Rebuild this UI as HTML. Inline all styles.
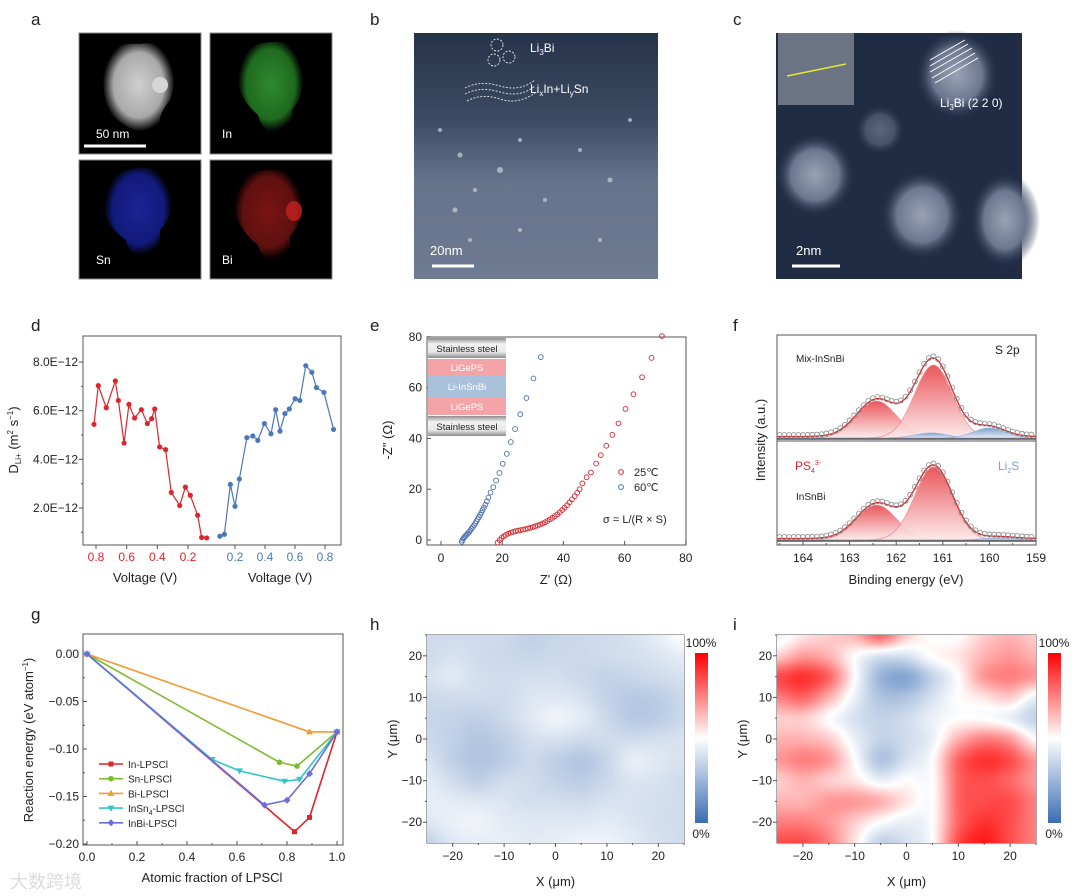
<!DOCTYPE html>
<html><head><meta charset="utf-8"><style>
body{margin:0;background:#fff;}
svg{display:block;font-family:"Liberation Sans",Arial,sans-serif;}
text{fill:#222;}
</style></head><body>
<svg id="fig" width="1080" height="896" viewBox="0 0 1080 896" xmlns="http://www.w3.org/2000/svg">
<defs>
<radialGradient id="partG" cx="50%" cy="45%" r="50%"><stop offset="0" stop-color="#cfcfcf"/><stop offset="0.7" stop-color="#a9a9a9"/><stop offset="1" stop-color="#000"/></radialGradient>
<radialGradient id="inG" cx="50%" cy="45%" r="50%"><stop offset="0" stop-color="#2f8a2f"/><stop offset="0.75" stop-color="#1f6a1f"/><stop offset="1" stop-color="#000"/></radialGradient>
<radialGradient id="snG" cx="50%" cy="45%" r="50%"><stop offset="0" stop-color="#1a2495"/><stop offset="0.75" stop-color="#121a7a"/><stop offset="1" stop-color="#000"/></radialGradient>
<radialGradient id="biG" cx="50%" cy="45%" r="50%"><stop offset="0" stop-color="#7a1414"/><stop offset="0.75" stop-color="#5e1010"/><stop offset="1" stop-color="#000"/></radialGradient>
<linearGradient id="bG" x1="0" y1="0" x2="0" y2="1"><stop offset="0" stop-color="#26334a"/><stop offset="0.35" stop-color="#3c4a63"/><stop offset="0.6" stop-color="#66738c"/><stop offset="1" stop-color="#6d7a92"/></linearGradient>
<radialGradient id="blob" cx="50%" cy="50%" r="50%"><stop offset="0" stop-color="#9aa3b5"/><stop offset="0.6" stop-color="#6c7790"/><stop offset="1" stop-color="#1f2c44" stop-opacity="0"/></radialGradient>
<linearGradient id="steel" x1="0" y1="0" x2="0" y2="1"><stop offset="0" stop-color="#8c8c8c"/><stop offset="0.3" stop-color="#f2f2f2"/><stop offset="0.7" stop-color="#e8e8e8"/><stop offset="1" stop-color="#8c8c8c"/></linearGradient>
<linearGradient id="peakFill" x1="0" y1="0" x2="0" y2="1"><stop offset="0" stop-color="#e8454a"/><stop offset="1" stop-color="#fde9ea"/></linearGradient>
<linearGradient id="blueFill" x1="0" y1="0" x2="0" y2="1"><stop offset="0" stop-color="#6f94c6"/><stop offset="1" stop-color="#e6eef8"/></linearGradient>
<linearGradient id="cbar" x1="0" y1="1" x2="0" y2="0"><stop offset="0" stop-color="#3a6db3"/><stop offset="0.5" stop-color="#ffffff"/><stop offset="1" stop-color="#ff0000"/></linearGradient>
</defs>

<g font-size="17">
<text x="31" y="25">a</text><text x="370" y="25">b</text><text x="733" y="25">c</text>
<text x="31" y="331">d</text><text x="370" y="331">e</text><text x="733" y="331">f</text>
<text x="31" y="620">g</text><text x="370" y="630">h</text><text x="733" y="630">i</text>
</g>

<g>
<rect x="79" y="33" width="122" height="121" fill="#000" stroke="#888"/>
<path d="M108 55 Q115 42 140 44 Q165 40 172 58 Q178 80 170 100 Q162 110 160 118 Q162 135 148 136 Q135 132 120 122 Q104 110 104 90 Q100 70 108 55Z" fill="url(#partG)"/>
<circle cx="160" cy="85" r="8" fill="#d6d6d6"/>
<line x1="84" y1="146" x2="146" y2="146" stroke="#fff" stroke-width="3"/>
<text x="96" y="138" font-size="12" style="fill:#fff">50 nm</text>
<rect x="210" y="33" width="122" height="121" fill="#000" stroke="#888"/>
<path d="M240 60 Q250 40 280 42 Q302 45 303 70 Q305 95 292 110 Q295 130 280 136 Q262 132 258 115 Q240 100 238 80Z" fill="url(#inG)"/>
<text x="222" y="138" font-size="12" style="fill:#fff">In</text>
<rect x="79" y="160" width="122" height="119" fill="#000" stroke="#888"/>
<path d="M106 195 Q110 170 140 168 Q170 166 172 190 Q175 215 160 230 Q162 255 148 260 Q130 258 126 240 Q104 225 104 205Z" fill="url(#snG)"/>
<text x="96" y="264" font-size="12" style="fill:#fff">Sn</text>
<rect x="210" y="160" width="122" height="119" fill="#000" stroke="#888"/>
<path d="M236 190 Q245 168 275 170 Q303 170 303 195 Q305 220 290 236 Q292 260 278 264 Q262 262 258 245 Q236 228 234 205Z" fill="url(#biG)"/>
<ellipse cx="294" cy="211" rx="8" ry="10" fill="#c42020" opacity="0.8"/>
<text x="222" y="264" font-size="12" style="fill:#fff">Bi</text>
</g>

<g>
<rect x="414" y="33" width="244" height="246" fill="url(#bG)"/>
<g fill="#c8d0dc" opacity="0.7">
<circle cx="440" cy="130" r="2"/><circle cx="460" cy="155" r="2.5"/><circle cx="475" cy="190" r="2"/><circle cx="500" cy="170" r="3"/><circle cx="520" cy="140" r="2"/><circle cx="455" cy="210" r="2.5"/><circle cx="545" cy="200" r="2"/><circle cx="580" cy="150" r="2"/><circle cx="610" cy="180" r="2.5"/><circle cx="630" cy="120" r="2"/><circle cx="470" cy="240" r="2"/><circle cx="520" cy="230" r="2"/><circle cx="600" cy="240" r="2"/>
</g>
<g fill="none" stroke="#e8ecf2" stroke-dasharray="2,1.5" stroke-width="0.9">
<circle cx="497" cy="45" r="6"/><circle cx="509" cy="57" r="6"/><circle cx="494" cy="60" r="6"/>
<path d="M465 88 Q480 80 500 86 T535 80"/><path d="M465 94 Q480 86 500 92 T535 86"/><path d="M467 101 Q482 93 500 99 T535 93"/>
</g>
<text x="530" y="52" font-size="12" style="fill:#fff">Li<tspan font-size="8" dy="3">3</tspan><tspan dy="-3">Bi</tspan></text>
<text x="530" y="93" font-size="12" style="fill:#fff">Li<tspan font-size="8" dy="3">x</tspan><tspan dy="-3">In+Li</tspan><tspan font-size="8" dy="3">y</tspan><tspan dy="-3">Sn</tspan></text>
<line x1="432" y1="266" x2="474" y2="266" stroke="#fff" stroke-width="3"/>
<text x="430" y="255" font-size="13" style="fill:#fff">20nm</text>
</g>

<g>
<rect x="776" y="33" width="246" height="246" fill="#1f2c44"/>
<ellipse cx="957" cy="75" rx="42" ry="45" fill="url(#blob)"/>
<ellipse cx="815" cy="175" rx="40" ry="42" fill="url(#blob)"/>
<ellipse cx="922" cy="215" rx="42" ry="45" fill="url(#blob)"/>
<ellipse cx="1005" cy="220" rx="35" ry="48" fill="url(#blob)"/>
<ellipse cx="880" cy="130" rx="25" ry="25" fill="url(#blob)" opacity="0.5"/>
<rect x="778" y="33" width="76" height="72" fill="#6c7383"/>
<line x1="787" y1="76" x2="846" y2="64" stroke="#e8e830" stroke-width="1.5"/>
<g stroke="#fff" stroke-width="1">
<line x1="930" y1="60" x2="965" y2="40"/><line x1="930" y1="66" x2="968" y2="44"/><line x1="930" y1="72" x2="972" y2="48"/><line x1="932" y1="78" x2="975" y2="53"/><line x1="935" y1="83" x2="978" y2="58"/>
</g>
<text x="940" y="107" font-size="12" style="fill:#fff">Li<tspan font-size="8" dy="3">3</tspan><tspan dy="-3">Bi    (2 2 0)</tspan></text>
<line x1="792" y1="266" x2="840" y2="266" stroke="#fff" stroke-width="3"/>
<text x="796" y="255" font-size="13" style="fill:#fff">2nm</text>
</g>

<g id="charts"></g>
</svg>
<canvas id="hmH" width="257" height="208" style="position:absolute;left:427px;top:635px"></canvas>
<canvas id="hmI" width="259" height="208" style="position:absolute;left:777px;top:635px"></canvas>
<script>
// ---------- DATA ----------
const dRedV=[0.813,0.785,0.733,0.674,0.654,0.617,0.585,0.548,0.504,0.465,0.437,0.417,0.385,0.346,0.309,0.254,0.217,0.185,0.137,0.111,0.078];
const dRedD=[5.44,7.03,6.12,7.22,6.42,4.67,6.26,5.70,6.04,5.47,5.67,6.07,4.51,4.40,2.64,2.10,2.86,2.52,1.70,0.79,0.77];
const dBlueV=[0.099,0.129,0.169,0.200,0.229,0.279,0.319,0.352,0.396,0.440,0.471,0.500,0.533,0.562,0.601,0.632,0.672,0.712,0.743,0.793,0.857];
const dBlueD=[0.84,0.92,2.97,2.07,3.19,4.89,4.96,4.78,5.47,5.05,6.04,5.16,5.88,6.07,6.49,6.42,7.85,7.58,6.95,6.75,5.23];
const dYTicks=[2,4,6,8];
const dXTicks=[0.2,0.4,0.6,0.8];
const eRedX=[18.5,19.2,19.8,20.5,21.2,22,22.8,23.6,24.4,25.2,26,26.8,27.6,28.4,29.2,30,30.8,31.6,32.4,33.2,34,34.8,35.6,36.4,37.2,38,38.8,39.6,40.4,41.2,42,42.8,43.7,44.5,45.3,46.2,47.6,49,50.7,52.2,54,56,58,60.3,62.9,65.7,68.8,72.2];
const eRedY=[-1,0,0.8,1.5,2.0,2.5,2.9,3.2,3.5,3.7,3.9,4.1,4.3,4.6,4.8,5.1,5.4,5.7,6.1,6.5,7.0,7.5,8.1,8.7,9.4,10.1,10.9,11.8,12.7,13.7,14.8,16,17.3,18.6,20,22.3,24.7,26.6,30.1,33.4,37.1,41.4,45.9,51.6,57.4,64.1,71.7,80.3];
const eBlueX=[6.8,7.0,7.3,7.6,8.0,8.4,8.8,9.2,9.6,10.0,10.4,10.8,11.2,11.6,12.0,12.4,12.8,13.2,13.6,14.0,14.5,15.0,15.5,16.2,17.1,18,19.1,20.2,21.5,22.8,24.2,25.9,27.9,30.2,32.6];
const eBlueY=[-0.7,0,0.6,1.1,1.6,2.1,2.6,3.2,3.8,4.5,5.1,5.8,6.6,7.4,8.2,9.0,9.9,10.8,11.8,12.8,13.9,15.2,16.7,18.7,20.8,23.4,26.4,30,33.9,38.6,43.7,49.5,55.9,63.6,72];
const eXTicks=[0,20,40,60,80];
const eYTicks=[0,20,40,60,80];
const fTopRedC=[162.42,161.2], fTopRedH=[37,73], fTopRedW=[1.0,0.95];
const fTopBlueC=[161.25,160.0], fTopBlueH=[5,10], fTopBlueW=[0.8,0.8];
const fBotRedC=[162.42,161.2], fBotRedH=[35,73], fBotRedW=[1.0,0.95];
const fBotBlueC=[159.8], fBotBlueH=[2], fBotBlueW=[0.8];
const fXTicks=[164,163,162,161,160,159];
const gNames=["In-LPSCl","Sn-LPSCl","Bi-LPSCl","InSn4-LPSCl","InBi-LPSCl"];
const gColors=["#e0242a","#7cba2e","#f39a33","#2ec7c9","#6a6fe0"];
const gX=[[0,0.83,0.89,1],[0,0.77,0.84,1],[0,0.89,1],[0,0.5,0.61,0.79,0.85,1],[0,0.71,0.8,0.89,1]];
const gY=[[0,-0.187,-0.172,-0.082],[0,-0.114,-0.118,-0.082],[0,-0.082,-0.082],[0,-0.111,-0.123,-0.134,-0.132,-0.082],[0,-0.159,-0.154,-0.126,-0.082]];
const gXTicks=[0,0.2,0.4,0.6,0.8,1.0];
const gYTicks=[0,-0.05,-0.10,-0.15,-0.20];
const hGrid=[
[0.38,0.38,0.38,0.37,0.34,0.36,0.37,0.38,0.40,0.44,0.50],
[0.38,0.40,0.38,0.37,0.36,0.37,0.37,0.38,0.39,0.41,0.44],
[0.40,0.42,0.39,0.38,0.39,0.39,0.37,0.35,0.36,0.38,0.40],
[0.37,0.38,0.38,0.38,0.41,0.42,0.40,0.35,0.32,0.33,0.37],
[0.36,0.35,0.34,0.37,0.42,0.46,0.43,0.37,0.32,0.33,0.37],
[0.37,0.34,0.31,0.34,0.39,0.40,0.38,0.38,0.38,0.39,0.40],
[0.40,0.34,0.30,0.33,0.37,0.34,0.31,0.36,0.44,0.42,0.40],
[0.43,0.38,0.34,0.38,0.38,0.35,0.33,0.37,0.41,0.40,0.38],
[0.44,0.43,0.42,0.41,0.39,0.39,0.38,0.40,0.40,0.39,0.38],
[0.42,0.45,0.46,0.43,0.42,0.42,0.42,0.43,0.41,0.39,0.38],
[0.35,0.42,0.44,0.44,0.43,0.44,0.46,0.46,0.43,0.40,0.38]];
const iGrid=[
[0.45,0.55,0.6,0.65,0.8,0.6,0.5,0.5,0.6,0.65,0.6],
[0.6,0.7,0.65,0.5,0.4,0.4,0.5,0.55,0.65,0.7,0.65],
[0.85,0.9,0.8,0.5,0.25,0.2,0.35,0.5,0.7,0.75,0.7],
[0.75,0.8,0.65,0.45,0.3,0.3,0.4,0.5,0.55,0.6,0.45],
[0.6,0.6,0.5,0.4,0.35,0.38,0.45,0.5,0.5,0.45,0.35],
[0.65,0.65,0.6,0.45,0.35,0.38,0.45,0.65,0.75,0.7,0.5],
[0.7,0.75,0.7,0.5,0.3,0.4,0.5,0.8,0.9,0.85,0.7],
[0.6,0.65,0.6,0.55,0.45,0.5,0.5,0.8,0.85,0.8,0.7],
[0.65,0.65,0.7,0.7,0.65,0.55,0.5,0.8,0.85,0.85,0.75],
[0.75,0.75,0.7,0.6,0.5,0.45,0.5,0.8,0.9,0.85,0.75],
[0.85,0.85,0.75,0.55,0.35,0.4,0.5,0.85,0.95,0.85,0.75]];
const hmTicks=[-20,-10,0,10,20];

// ---------- HELPERS ----------
const NS="http://www.w3.org/2000/svg";
const root=document.getElementById('charts');
function mk(tag,attrs,parent,txt){const e=document.createElementNS(NS,tag);for(const k in attrs)e.setAttribute(k,attrs[k]);if(txt!==undefined)e.textContent=txt;(parent||root).appendChild(e);return e;}
function grp(name){const g=mk('g',{});return g;}
function frame(g,x0,y0,x1,y1){mk('rect',{x:x0,y:y0,width:x1-x0,height:y1-y0,fill:'none',stroke:'#555','stroke-width':1},g);}
function lab(g,x,y,t,opt){const o=Object.assign({x:x,y:y,'font-size':12},opt||{});return mk('text',o,g,t);}

// ---------- PANEL d ----------
(function(){
const g=grp('panel-d-diffusivity');
const X0=83,X1=341,Y0=336,Y1=545;
frame(g,X0,Y0,X1,Y1);
const yS=v=>508-(v-2)*24.33;
const xR=v=>96+(0.8-v)*153.3;
const xB=v=>235+(v-0.2)*150;
dYTicks.forEach(v=>{mk('line',{x1:X0,y1:yS(v),x2:X0-4,y2:yS(v),stroke:'#555'},g);const t=lab(g,78,yS(v)+4,v.toFixed(1)+'E\u221212',{'text-anchor':'end'});
 mk('line',{x1:X0,y1:yS(v-1),x2:X0-2,y2:yS(v-1),stroke:'#555'},g);});
[0.8,0.6,0.4,0.2].forEach(v=>{mk('line',{x1:xR(v),y1:Y1,x2:xR(v),y2:Y1+4,stroke:'#555'},g);const t=lab(g,xR(v),Y1+16,v.toFixed(1),{'text-anchor':'middle',style:'fill:#e0242a'});});
dXTicks.forEach(v=>{mk('line',{x1:xB(v),y1:Y1,x2:xB(v),y2:Y1+4,stroke:'#555'},g);const t=lab(g,xB(v),Y1+16,v.toFixed(1),{'text-anchor':'middle',style:'fill:#4a78b8'});});
lab(g,145,582,'Voltage (V)',{'text-anchor':'middle','font-size':13});
lab(g,280,582,'Voltage (V)',{'text-anchor':'middle','font-size':13});
const yt=mk('text',{x:0,y:0,'font-size':13,transform:'translate(18,440) rotate(-90)','text-anchor':'middle'},g);
yt.innerHTML='D<tspan font-size="8" dy="3">Li+</tspan><tspan dy="-3"> (m</tspan><tspan font-size="8" dy="-5">2</tspan><tspan dy="5"> s</tspan><tspan font-size="8" dy="-5">\u22121</tspan><tspan dy="5">)</tspan>';

function series(V,D,xf,col,name){const pts=V.map((v,i)=>xf(v)+','+yS(D[i])).join(' ');
 const pl=mk('polyline',{points:pts,fill:'none',stroke:col,'stroke-width':1.2},g);
 V.forEach((v,i)=>{const c=mk('circle',{cx:xf(v),cy:yS(D[i]),r:2.6,fill:col},g);});}
series(dRedV,dRedD,xR,'#e0242a','discharge');
series(dBlueV,dBlueD,xB,'#4a78b8','charge');
})();

// ---------- PANEL e ----------
(function(){
const g=grp('panel-e-eis');
const X0=427,X1=686,Y0=337,Y1=545;
frame(g,X0,Y0,X1,Y1);
const xS=v=>441+v*3.06, yS=v=>540-v*2.54;
eXTicks.forEach(v=>{mk('line',{x1:xS(v),y1:Y1,x2:xS(v),y2:Y1-4,stroke:'#555'},g);const t=lab(g,xS(v),Y1+17,String(v),{'text-anchor':'middle'});});
eYTicks.forEach(v=>{mk('line',{x1:X0,y1:yS(v),x2:X0+4,y2:yS(v),stroke:'#555'},g);const t=lab(g,X0-5,yS(v)+4,String(v),{'text-anchor':'end'});});
lab(g,556,584,"Z' (\u03a9)",{'text-anchor':'middle','font-size':13});
mk('text',{x:0,y:0,'font-size':13,transform:'translate(392,440) rotate(-90)','text-anchor':'middle'},g,'-Z" (\u03a9)');
const st=grp('cell-schematic');g.appendChild(st);
mk('rect',{x:428,y:338,width:78,height:20,fill:'url(#steel)'},st);
mk('rect',{x:428,y:359,width:78,height:16,fill:'#f4a3a6'},st);
mk('rect',{x:428,y:375,width:78,height:23,fill:'#a9c1da'},st);
mk('rect',{x:428,y:398,width:78,height:17,fill:'#f4a3a6'},st);
mk('rect',{x:428,y:416,width:78,height:20,fill:'url(#steel)'},st);
lab(st,467,352,'Stainless steel',{'text-anchor':'middle','font-size':9.5});
lab(st,467,371,'LiGePS',{'text-anchor':'middle','font-size':9.5,style:'fill:#fff'});
lab(st,467,390,'Li-InSnBi',{'text-anchor':'middle','font-size':9.5,style:'fill:#fff'});
lab(st,467,410,'LiGePS',{'text-anchor':'middle','font-size':9.5,style:'fill:#fff'});
lab(st,467,430,'Stainless steel',{'text-anchor':'middle','font-size':9.5});
function pts(X,Y,col,name){X.forEach((v,i)=>{const c=mk('circle',{cx:xS(v),cy:yS(Y[i]),r:2.4,fill:'none',stroke:col,'stroke-width':0.9},g);});}
pts(eRedX,eRedY,'#d9262c','point-25C');
pts(eBlueX,eBlueY,'#4a6fae','point-60C');
mk('circle',{cx:621,cy:472,r:2.4,fill:'none',stroke:'#d9262c'},g);lab(g,634,476,'25\u2103',{'font-size':11});
mk('circle',{cx:621,cy:487,r:2.4,fill:'none',stroke:'#4a6fae'},g);lab(g,634,491,'60\u2103',{'font-size':11});
lab(g,603,523,'\u03c3 = L/(R \u00d7 S)',{'font-size':11});
})();

// ---------- PANEL f ----------
(function(){
const g=grp('panel-f-xps');
const X0=777,X1=1036,Y0=335,Y1=545;
frame(g,X0,Y0,X1,Y1);
mk('line',{x1:X0,y1:441,x2:X1,y2:441,stroke:'#555'},g);
const xS=e=>803+(164-e)*46.6;
fXTicks.forEach(v=>{mk('line',{x1:xS(v),y1:Y1,x2:xS(v),y2:Y1-4,stroke:'#555'},g);if(v+0.5<=164.5)mk('line',{x1:xS(v+0.5),y1:Y1,x2:xS(v+0.5),y2:Y1-2,stroke:'#555'},g);const t=lab(g,xS(v),Y1+17,String(v),{'text-anchor':'middle'});});
lab(g,906,584,'Binding energy (eV)',{'text-anchor':'middle','font-size':13});
mk('text',{x:0,y:0,'font-size':13,transform:'translate(765,440) rotate(-90)','text-anchor':'middle'},g,'Intensity (a.u.)');
const gauss=(e,c,h,w)=>h*Math.exp(-4*Math.LN2*((e-c)/w)**2);
const Es=[];for(let e=164.55;e>=159.0;e-=0.02)Es.push(e);
function panel(base,RC,RH,RW,BC,BH,BW,nm){
 const comps=[];RC.forEach((c,i)=>comps.push([c,RH[i],RW[i],'red']));BC.forEach((c,i)=>comps.push([c,BH[i],BW[i],'blue']));
 comps.forEach(p=>{let d='M'+xS(Es[0])+','+base;Es.forEach(e=>{d+=' L'+xS(e).toFixed(1)+','+(base-gauss(e,p[0],p[1],p[2])).toFixed(1);});d+=' L'+xS(Es[Es.length-1])+','+base+'Z';
  const pa=mk('path',{d:d,fill:p[3]=='red'?'url(#peakFill)':'url(#blueFill)',stroke:p[3]=='red'?'#f08a8d':'#8fb0d8','stroke-width':0.8,opacity:0.9},g);});
 const env=e=>comps.reduce((s,p)=>s+gauss(e,p[0],p[1],p[2]),0)+1.5;
 let d='';Es.forEach((e,i)=>{d+=(i?' L':'M')+xS(e).toFixed(1)+','+(base-env(e)).toFixed(1);});
 mk('path',{d:d,fill:'none',stroke:'#d9262c','stroke-width':1.3},g);
 mk('line',{x1:X0,y1:base+1,x2:X1,y2:base+1,stroke:'#555','stroke-width':1.5},g);
 for(let e=164.5;e>=159.05;e-=0.1){const c=mk('circle',{cx:xS(e),cy:base-env(e)-1.5,r:2.5,fill:'none',stroke:'#888','stroke-width':0.8},g);}
}
panel(438,fTopRedC,fTopRedH,fTopRedW,fTopBlueC,fTopBlueH,fTopBlueW,'mix-insnbi');
panel(540,fBotRedC,fBotRedH,fBotRedW,fBotBlueC,fBotBlueH,fBotBlueW,'insnbi');
lab(g,796,362,'Mix-InSnBi',{'font-size':10});
lab(g,995,354,'S 2p',{'font-size':12});
lab(g,796,500,'InSnBi',{'font-size':10});
const ps=lab(g,795,470,'',{'font-size':12,style:'fill:#e0242a'});ps.innerHTML='PS<tspan font-size="7" dy="3">4</tspan><tspan font-size="7" dy="-8">3-</tspan>';
const li=lab(g,998,470,'',{'font-size':12,style:'fill:#7aa0cc'});li.innerHTML='Li<tspan font-size="7" dy="3">2</tspan><tspan dy="-3">S</tspan>';
})();

// ---------- PANEL g ----------
(function(){
const g=grp('panel-g-reaction-energy');
const X0=83,X1=343,Y0=634,Y1=845;
frame(g,X0,Y0,X1,Y1);
const xS=v=>87+v*250;
const ys=v=>654+(-v)*950;
gXTicks.forEach(v=>{mk('line',{x1:xS(v),y1:Y1,x2:xS(v),y2:Y1-4,stroke:'#555'},g);if(v<0.95)mk('line',{x1:xS(v+0.1),y1:Y1,x2:xS(v+0.1),y2:Y1-2,stroke:'#555'},g);const t=lab(g,xS(v),Y1+16,v.toFixed(1),{'text-anchor':'middle'});});
gYTicks.forEach(v=>{mk('line',{x1:X0,y1:ys(v),x2:X0+4,y2:ys(v),stroke:'#555'},g);if(v>-0.19)mk('line',{x1:X0,y1:ys(v-0.025),x2:X0+2,y2:ys(v-0.025),stroke:'#555'},g);const t=lab(g,X0-4,ys(v)+4,v.toFixed(2).replace('-','\u2212'),{'text-anchor':'end'});});
lab(g,212,882,'Atomic fraction of LPSCl',{'text-anchor':'middle','font-size':13});
const yt=mk('text',{x:0,y:0,'font-size':13,transform:'translate(33,740) rotate(-90)','text-anchor':'middle'},g);
yt.innerHTML='Reaction energy (eV atom<tspan font-size="8" dy="-5">\u22121</tspan><tspan dy="5">)</tspan>';
const markers=['sq','ci','tu','td','di'];
function mark(x,y,t,col){if(t=='sq')return mk('rect',{x:x-2.5,y:y-2.5,width:5,height:5,fill:col},g);if(t=='ci')return mk('circle',{cx:x,cy:y,r:2.8,fill:col},g);
 if(t=='tu')return mk('polygon',{points:`${x},${y-3.5} ${x-3.5},${y+2.5} ${x+3.5},${y+2.5}`,fill:col},g);if(t=='td')return mk('polygon',{points:`${x},${y+3.5} ${x-3.5},${y-2.5} ${x+3.5},${y-2.5}`,fill:col},g);
 return mk('polygon',{points:`${x},${y-3.5} ${x+3.5},${y} ${x},${y+3.5} ${x-3.5},${y}`,fill:col},g);}
gNames.forEach((n,s)=>{const pl=mk('polyline',{points:gX[s].map((v,i)=>xS(v)+','+ys(gY[s][i])).join(' '),fill:'none',stroke:gColors[s],'stroke-width':1.6},g);
 gX[s].forEach((v,i)=>{const m=mark(xS(v),ys(gY[s][i]),markers[s],gColors[s]);});});
const lg=grp('legend');g.appendChild(lg);
gNames.forEach((n,s)=>{const y=764+s*14.7;const e=mk('g',{},lg);
 mk('line',{x1:99,y1:y,x2:123,y2:y,stroke:gColors[s],'stroke-width':1.6},e);mark(111,y,markers[s],gColors[s]);
 const t=mk('text',{x:128,y:y+4,'font-size':10},e);if(n=='InSn4-LPSCl'){t.innerHTML='InSn<tspan font-size="7" dy="3">4</tspan><tspan dy="-3">-LPSCl</tspan>';}else t.textContent=n;});
lab(g,10,888,'\u5927\u6570\u8de8\u5883',{'font-size':18,style:'fill:#dcdcdc'});
})();

// ---------- PANELS h, i ----------
function cmap(v){v=Math.max(0,Math.min(1,v));if(v<0.5){const t=v/0.5;return[58+(255-58)*t,109+(255-109)*t,179+(255-179)*t];}const t=(v-0.5)/0.5;return[255,255-255*t,255-255*t];}
function cr(p0,p1,p2,p3,t){return 0.5*((2*p1)+(-p0+p2)*t+(2*p0-5*p1+4*p2-p3)*t*t+(-p0+3*p1-3*p2+p3)*t*t*t);}
function drawHeat(id,grid){const cv=document.getElementById(id),ctx=cv.getContext('2d'),W=cv.width,H=cv.height,img=ctx.createImageData(W,H);
 const n=grid.length-1,m=grid[0].length-1;
 const G=(r,c)=>grid[Math.max(0,Math.min(n,r))][Math.max(0,Math.min(m,c))];
 for(let py=0;py<H;py++){const fy=py/(H-1)*n,iy=Math.min(n-1,Math.floor(fy)),ty=fy-iy;
  for(let px=0;px<W;px++){const fx=px/(W-1)*m,ix=Math.min(m-1,Math.floor(fx)),tx=fx-ix;
   const rows=[];for(let k=-1;k<=2;k++)rows.push(cr(G(iy+k,ix-1),G(iy+k,ix),G(iy+k,ix+1),G(iy+k,ix+2),tx));
   const v=cr(rows[0],rows[1],rows[2],rows[3],ty);
   const c=cmap(v),k=(py*W+px)*4;img.data[k]=c[0];img.data[k+1]=c[1];img.data[k+2]=c[2];img.data[k+3]=255;}}
 ctx.putImageData(img,0,0);}
drawHeat('hmH',hGrid);drawHeat('hmI',iGrid);
function heatAxes(name,X0,X1,Y0,Y1,cbx,label){
 const g=grp(name);frame(g,X0,Y0,X1,Y1);
 const xS=v=>X0+(v+25)/50*(X1-X0), yS=v=>Y0+(25-v)/50*(Y1-Y0);
 hmTicks.forEach(v=>{mk('line',{x1:xS(v),y1:Y1,x2:xS(v),y2:Y1+4,stroke:'#555'},g);mk('line',{x1:xS(v+5),y1:Y1,x2:xS(v+5),y2:Y1+2,stroke:'#555'},g);
  const t=lab(g,xS(v),Y1+17,String(v).replace('-','\u2212'),{'text-anchor':'middle'});
  mk('line',{x1:X0,y1:yS(v),x2:X0-4,y2:yS(v),stroke:'#555'},g);mk('line',{x1:X0,y1:yS(v+5),x2:X0-2,y2:yS(v+5),stroke:'#555'},g);
  const u=lab(g,X0-5,yS(v)+4,String(v).replace('-','\u2212'),{'text-anchor':'end'});});
 lab(g,(X0+X1)/2,Y1+43,'X (\u03bcm)',{'text-anchor':'middle','font-size':13});
 mk('text',{x:0,y:0,'font-size':13,transform:`translate(${X0-30},${(Y0+Y1)/2}) rotate(-90)`,'text-anchor':'middle'},g,'Y (\u03bcm)');
 lab(g,X0+19,Y0+157,label,{'font-size':13});
 const w=lab(g,X0+19,Y0+190,'',{'font-size':12});w.innerHTML='372 cm<tspan font-size="8" dy="-5">\u22121</tspan>';
 const cb=mk('rect',{x:cbx,y:653,width:13,height:170,fill:'url(#cbar)'},g);
 lab(g,cbx+6,647,'100%',{'text-anchor':'middle','font-size':12});
 lab(g,cbx+6,838,'0%',{'text-anchor':'middle','font-size':12});
}
heatAxes('panel-h-raman-map',427,684,635,843,695,'InSnBi');
heatAxes('panel-i-raman-map',777,1036,635,843,1048,'Mix-InSnBi');
</script>
</body></html>
